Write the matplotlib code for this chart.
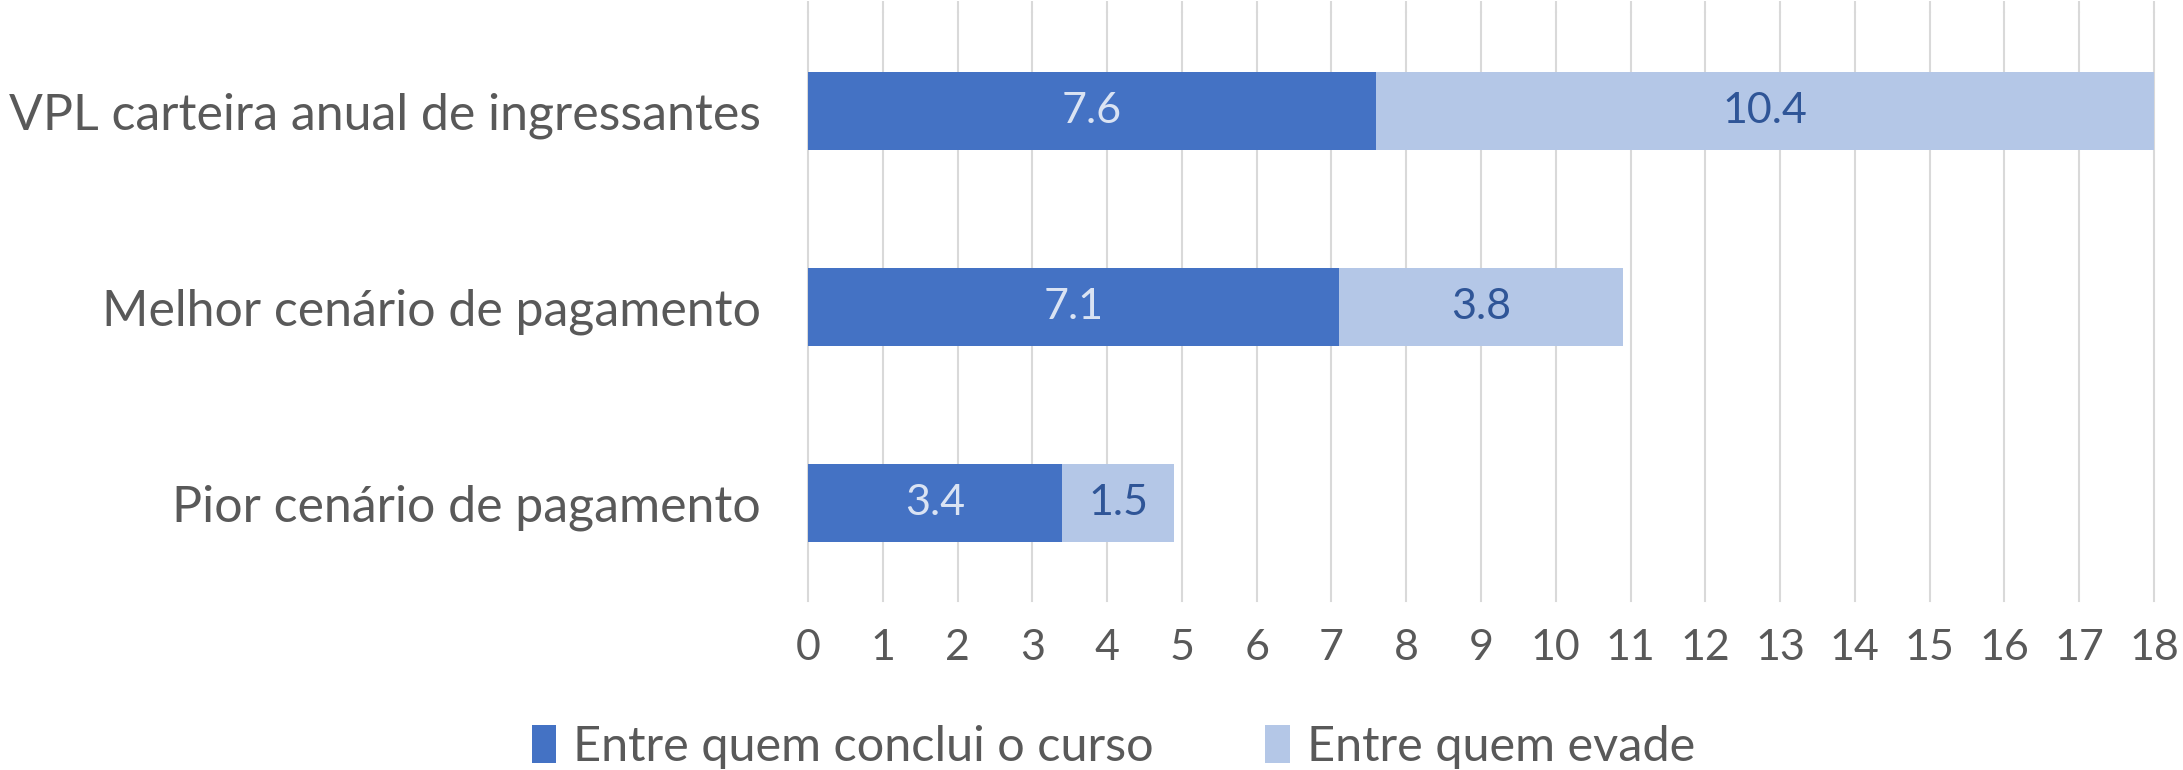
import numpy as np
import matplotlib.pyplot as plt

categories = ['VPL carteira anual de ingressantes', 'Melhor cenário de pagamento', 'Pior cenário de pagamento']
concluem = [7.6, 7.1, 3.4]
evadem = [10.4, 3.8, 1.5]
series_names = ['Entre quem conclui o curso', 'Entre quem evade']

plt.rcParams['font.family'] = ['Lato', 'DejaVu Sans']
gray = '#595959'
dark = '#4472C4'
light = '#B4C7E7'

fig = plt.figure(figsize=(21.83, 7.7), dpi=100)
ax = fig.add_axes([808 / 2183, 1 - 601 / 770, (2154 - 808) / 2183, 588 / 770])

y = np.arange(len(categories))
b1 = ax.barh(y, concluem, height=0.40, color=dark, label=series_names[0], zorder=3)
b2 = ax.barh(y, evadem, left=concluem, height=0.40, color=light, label=series_names[1], zorder=3)

for rect, v in zip(b1, concluem):
    ax.text(rect.get_x() + rect.get_width() / 2, rect.get_y() + rect.get_height() / 2, f'{v:.1f}',
            ha='center', va='center', color='#DAE3F3', fontsize=31, zorder=4)
for rect, v in zip(b2, evadem):
    ax.text(rect.get_x() + rect.get_width() / 2, rect.get_y() + rect.get_height() / 2, f'{v:.1f}',
            ha='center', va='center', color='#2F5597', fontsize=31, zorder=4)

ax.set_xlim(0, 18)
ax.set_ylim(2.5, -0.5)
ax.set_xticks(range(0, 19))
ax.set_yticks(y)
ax.set_yticklabels(categories)
ax.grid(axis='x', color='#D9D9D9', linewidth=1.5, zorder=0)
# gridlines in the original run up to the top edge of the image
for gl in ax.get_xgridlines():
    gl.set_clip_on(False)
ax.vlines(range(0, 19), -0.5, -0.56, color='#D9D9D9', linewidth=1.5, clip_on=False, zorder=0)
for s in ax.spines.values():
    s.set_visible(False)
ax.tick_params(axis='both', length=0, colors=gray, labelsize=31)
ax.tick_params(axis='x', pad=20)
ax.tick_params(axis='y', pad=34, labelsize=36)

fig.legend(loc='center', bbox_to_anchor=(0.51, 0.03), ncol=2, frameon=False,
           fontsize=35, labelcolor=gray, handlelength=0.5, handleheight=0.8,
           handletextpad=0.35, columnspacing=2.3)

fig.savefig('out.png', dpi=100)
